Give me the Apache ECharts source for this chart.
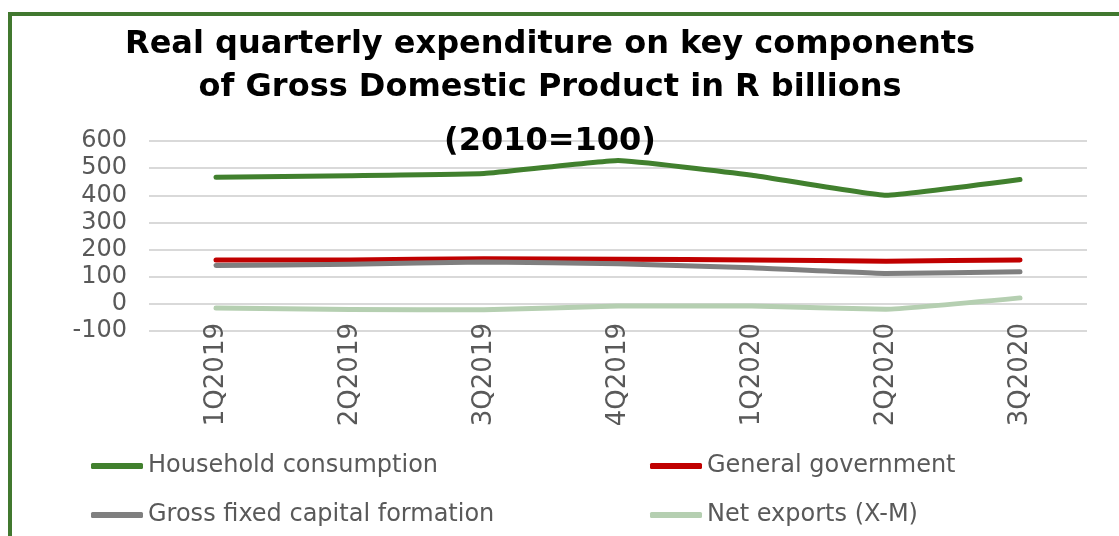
<!DOCTYPE html>
<html>
<head>
<meta charset="utf-8">
<script src="https://cdn.jsdelivr.net/npm/echarts@6/dist/echarts.min.js"></script>
<style>
  html, body { margin: 0; padding: 0; background: #fff; }
  #chart { width: 1119px; height: 536px; }
</style>
</head>
<body>
<div id="chart"></div>
<script>
// quarters on the x axis
var quarters = ['1Q2019', '2Q2019', '3Q2019', '4Q2019', '1Q2020', '2Q2020', '3Q2020'];

// R billions
var household = [466, 472, 480, 528, 474, 400, 458];
var government = [162, 162, 166, 164, 162, 157, 162];
var capitalFormation = [141, 146, 154, 148, 133, 112, 118];
var netExports = [-15, -21, -22, -8, -8, -20, 22];

var seriesNames = ['Household consumption', 'General government', 'Gross fixed capital formation', 'Net exports (X-M)'];
var seriesColors = ['#41802E', '#C00000', '#7F7F7F', '#B5CFB1'];

var titleLines = [
  'Real quarterly expenditure on key components',
  'of Gross Domestic Product in R billions',
  '(2010=100)'
];

var grey = '#595959';
var font = 'DejaVu Sans';

function lineSeries(i, data) {
  return {
    name: seriesNames[i],
    type: 'line',
    data: data,
    showSymbol: false,
    smooth: 0.1,
    lineStyle: { width: 5, color: seriesColors[i], cap: 'round', join: 'round' },
    itemStyle: { color: seriesColors[i] }
  };
}

// one legend per item so the 2x2 layout is exact
function legendItem(i, left, top) {
  return {
    left: left,
    top: top,
    itemWidth: 52,
    itemHeight: 6,
    icon: 'roundRect',
    textStyle: { color: grey, fontSize: 24, fontFamily: font },
    data: [seriesNames[i]]
  };
}

function titleText(i, y) {
  return {
    type: 'text', x: 550, y: y, z: 100,
    style: { text: titleLines[i], font: 'bold 32px "DejaVu Sans"', fill: '#000', align: 'center', verticalAlign: 'middle' }
  };
}

var chart = echarts.init(document.getElementById('chart'));

var option = {
  backgroundColor: '#fff',
  animation: false,
  textStyle: { fontFamily: font },
  graphic: [
    // green frame (only left and top edges are in view)
    {
      type: 'rect',
      z: -1,
      shape: { x: 10, y: 14, width: 1300, height: 700 },
      style: { fill: 'none', stroke: '#41782F', lineWidth: 4 }
    },
    titleText(0, 45),
    titleText(1, 88),
    titleText(2, 142)
  ],
  grid: {
    left: 149,
    right: 32,
    top: 141,
    bottom: 205
  },
  xAxis: {
    type: 'category',
    data: quarters,
    boundaryGap: true,
    axisLine: { show: false },
    axisTick: { show: false },
    axisLabel: {
      rotate: 90,
      margin: -8,
      color: grey,
      fontSize: 26,
      fontFamily: font
    }
  },
  yAxis: {
    type: 'value',
    min: -100,
    max: 600,
    interval: 100,
    axisLine: { show: false },
    axisTick: { show: false },
    axisLabel: { color: grey, fontSize: 24, fontFamily: font, margin: 22 },
    splitLine: { lineStyle: { color: '#d9d9d9', width: 2 } }
  },
  legend: [
    legendItem(0, 86, 449),
    legendItem(1, 645, 449),
    legendItem(2, 86, 498),
    legendItem(3, 645, 498)
  ],
  series: [
    lineSeries(0, household),
    lineSeries(1, government),
    lineSeries(2, capitalFormation),
    lineSeries(3, netExports)
  ]
};

chart.setOption(option);
</script>
</body>
</html>
